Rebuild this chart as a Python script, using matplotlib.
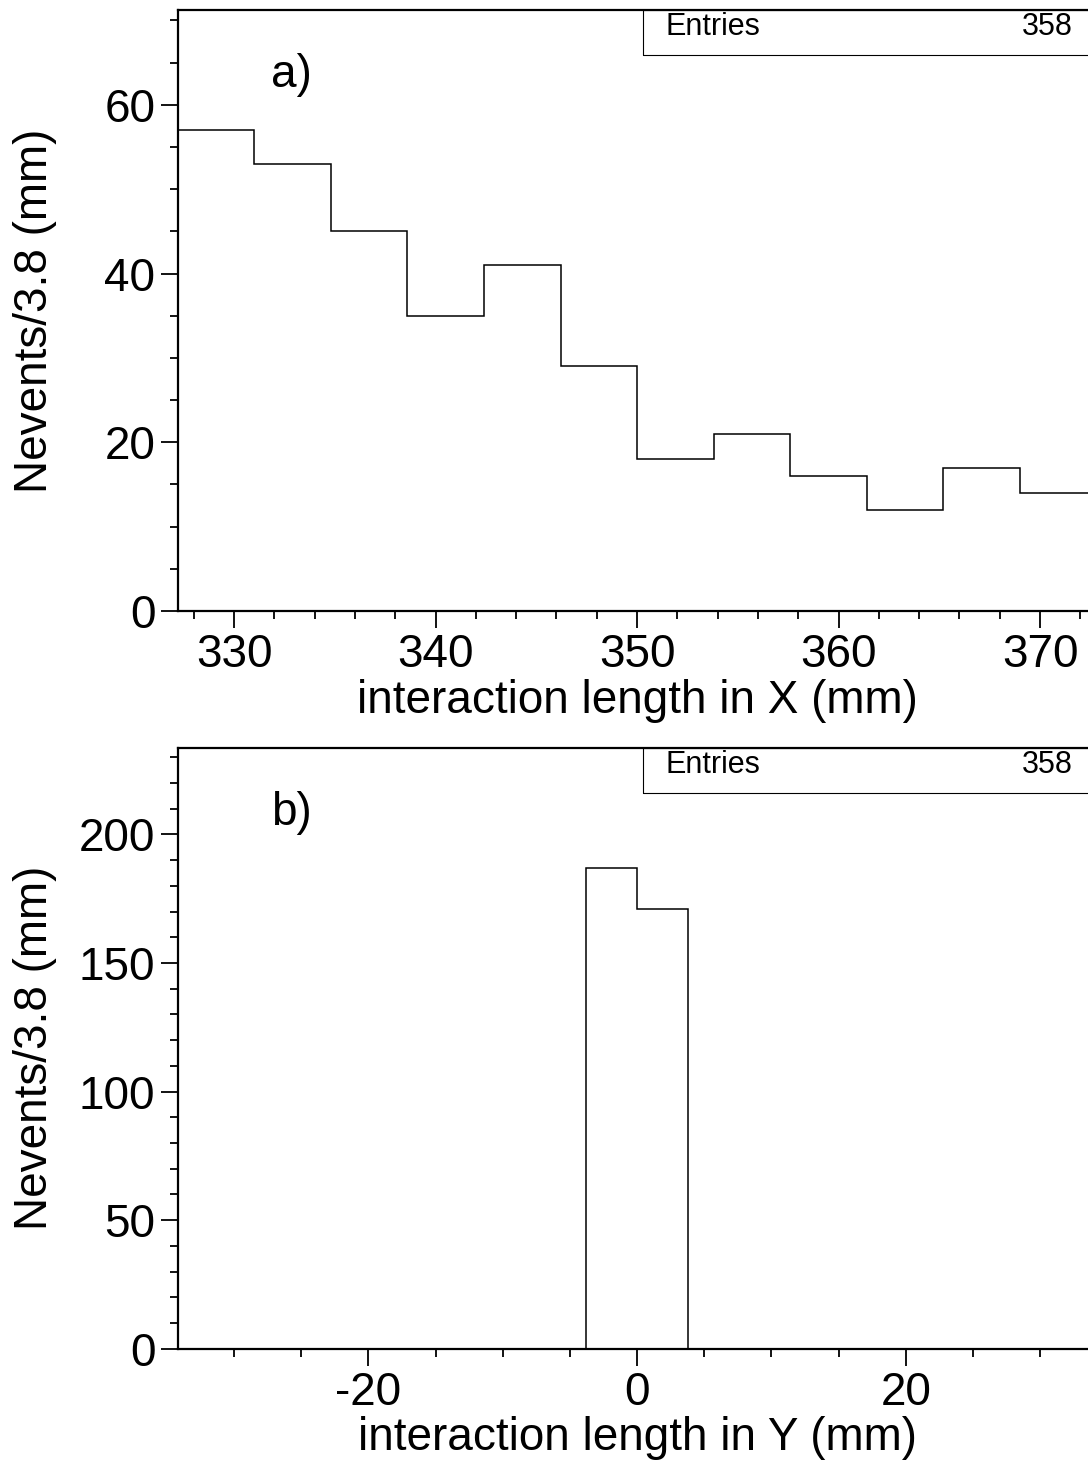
import numpy as np
import matplotlib
matplotlib.use("Agg")
import matplotlib.pyplot as plt
from matplotlib.patches import Rectangle
from matplotlib.ticker import MultipleLocator

## --- data (bin width 3.8 mm)
bin_width = 3.8
x_lo = 327.2
x_counts = [57, 53, 45, 35, 41, 29, 18, 21, 16, 12, 17, 14]
y_lo = -34.2
y_counts = [0, 0, 0, 0, 0, 0, 0, 0, 187, 171, 0, 0, 0, 0, 0, 0, 0, 0]
n_entries = 358
panel_tags = ["a)", "b)"]
x_titles = ["interaction length in X (mm)", "interaction length in Y (mm)"]
y_title = "Nevents/3.8 (mm)"

plt.rcParams['font.family'] = ['Liberation Sans', 'DejaVu Sans']
plt.rcParams['axes.unicode_minus'] = False
fs = 33

fig = plt.figure(figsize=(10.88, 14.6), dpi=100)
ax1 = fig.add_axes([0.1633, 0.5815, 0.8445, 0.4117])
ax2 = fig.add_axes([0.1633, 0.0762, 0.8445, 0.4117])

panels = [
    (ax1, x_lo, x_counts, 10, 2, 20, 5),
    (ax2, y_lo, y_counts, 20, 5, 50, 10),
]

for i, (ax, lo, counts, xmaj, xmin, ymaj, ymin) in enumerate(panels):
    edges = lo + bin_width * np.arange(len(counts) + 1)
    ax.stairs(counts, edges, baseline=0, color='black', lw=1.1)
    ax.set_xlim(edges[0], edges[-1])
    ax.set_ylim(0, 1.25 * max(counts))

    ax.xaxis.set_major_locator(MultipleLocator(xmaj))
    ax.xaxis.set_minor_locator(MultipleLocator(xmin))
    ax.yaxis.set_major_locator(MultipleLocator(ymaj))
    ax.yaxis.set_minor_locator(MultipleLocator(ymin))
    ax.tick_params(which='major', direction='out', length=12, width=1.3,
                   labelsize=fs, pad=4)
    ax.tick_params(which='minor', direction='out', length=6, width=1.3)
    ax.tick_params(top=False, right=False, which='both')
    for side in ['left', 'bottom', 'top']:
        ax.spines[side].set_linewidth(1.6)
    ax.spines['right'].set_visible(False)

    ax.set_xlabel(x_titles[i], fontsize=fs, labelpad=1)
    ax.set_ylabel(y_title, fontsize=fs)
    # anchor is the right edge of the rotated label
    ax.yaxis.set_label_coords(-0.131, 0.5)

    ax.text(0.1016, 0.872, panel_tags[i], transform=ax.transAxes,
            fontsize=fs, va='baseline', ha='left')

    # stats box, ROOT style
    ax.add_patch(Rectangle((0.506, 0.925), 0.6, 0.075, transform=ax.transAxes,
                           fill=False, lw=0.8, clip_on=False))
    ax.text(0.531, 0.958, "Entries", transform=ax.transAxes, fontsize=22,
            va='baseline', ha='left')
    ax.text(0.9746, 0.958, str(n_entries), transform=ax.transAxes,
            fontsize=22, va='baseline', ha='right')

fig.savefig("out.png", dpi=100)
